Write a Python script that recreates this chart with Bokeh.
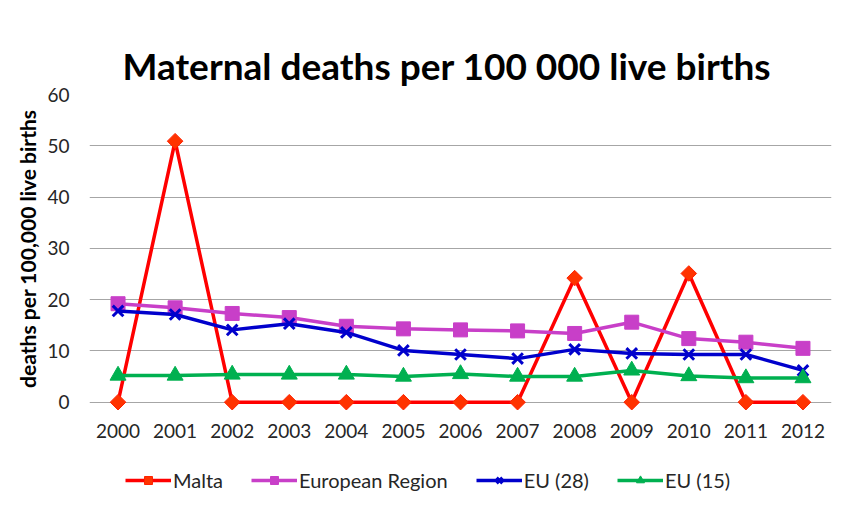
from bokeh.plotting import figure
from bokeh.models import FactorRange, Range1d, Legend, LegendItem, FixedTicker, Title
from bokeh.embed import file_html
from bokeh.resources import INLINE

years = ["2000", "2001", "2002", "2003", "2004", "2005", "2006",
         "2007", "2008", "2009", "2010", "2011", "2012"]
malta = [0, 50.9, 0, 0, 0, 0, 0, 0, 24.2, 0, 25.1, 0, 0]
european_region = [19.2, 18.4, 17.3, 16.5, 14.8, 14.3, 14.1, 13.9, 13.4, 15.6, 12.4, 11.7, 10.5]
eu28 = [17.8, 17.1, 14.1, 15.3, 13.6, 10.1, 9.3, 8.5, 10.3, 9.5, 9.3, 9.3, 6.2]
eu15 = [5.2, 5.2, 5.4, 5.4, 5.4, 5.0, 5.5, 5.0, 5.0, 6.2, 5.1, 4.7, 4.7]
y_ticks = [0, 10, 20, 30, 40, 50, 60]

FONT = "Lato"

# frame extends down to hold the x labels and the legend (lower part left empty)
p = figure(x_range=FactorRange(factors=years), y_range=Range1d(-19.17, 60),
           frame_width=742, frame_height=406, output_backend="svg", toolbar_location=None,
           title="Maternal deaths per 100 000 live births")
p.min_border_left = 89
p.min_border_right = 13
p.min_border_top = 94
p.min_border_bottom = 0
p.outline_line_color = None
p.background_fill_color = "white"
p.border_fill_color = "white"

p.title.text_font = FONT
p.title.text_font_style = "bold"
p.title.text_font_size = "37px"
p.title.align = "left"
p.title.offset = 33
p.title.text_color = "#000000"
p.title.standoff = 14

p.xgrid.grid_line_color = None
p.ygrid.grid_line_color = "#a6a6a6"
p.ygrid.grid_line_width = 1.2
p.yaxis.ticker = FixedTicker(ticks=y_ticks)
for ax in (p.xaxis, p.yaxis):
    ax.axis_line_color = None
    ax.major_tick_line_color = None
    ax.minor_tick_line_color = None
    ax.major_label_text_font = FONT
    ax.major_label_text_font_size = "19px"
    ax.major_label_text_color = "#262626"
p.xaxis.major_label_standoff = -83
p.yaxis.major_label_standoff = 14

ylabel = Title(text="deaths per 100,000 live births", align="right", offset=15,
               text_font=FONT, text_font_style="bold", text_font_size="21px",
               text_color="#000000", standoff=9)
p.add_layout(ylabel, "left")

series = [
    ("Malta", malta, "#ff0000", "#ff3300", "square", 11, 0.785398),
    ("European Region", european_region, "#c83fc8", "#c83fc8", "square", 14, 0.0),
    ("EU (28)", eu28, "#0000cc", "#0000cc", "x", 15, 0.0),
    ("EU (15)", eu15, "#00b050", "#00b050", "triangle", 16, 0.0),
]

items = []
for name, vals, lc, fc, marker, size, ang in series:
    r1 = p.line(years, vals, line_color=lc, line_width=3.5)
    if marker == "x":
        r2 = p.scatter(years, vals, marker="x", size=size, line_color=lc, line_width=3)
    else:
        r2 = p.scatter(years, vals, marker=marker, size=size, angle=ang, fill_color=fc,
                       line_color="#ff2200" if name == "Malta" else lc, line_width=1)
    items.append(LegendItem(label=name, renderers=[r1, r2]))

legend = Legend(items=items, orientation="horizontal", location=(36, 8),
                border_line_color=None, background_fill_alpha=0,
                label_text_font=FONT, label_text_font_size="20px",
                label_text_color="#262626", glyph_width=46, glyph_height=20,
                label_standoff=2, spacing=28, padding=2, margin=0)
p.add_layout(legend, "center")

open("out.html", "w").write(file_html(p, INLINE))
